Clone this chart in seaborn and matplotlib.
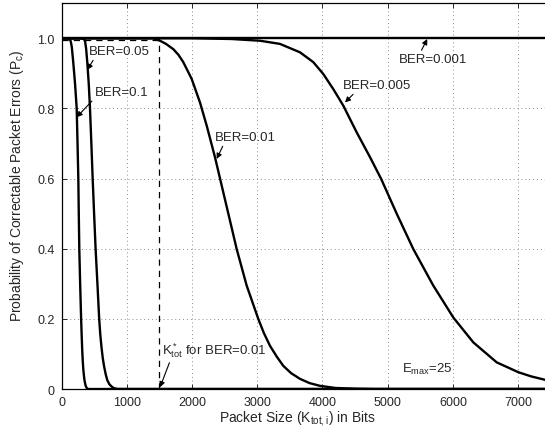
import matplotlib
matplotlib.use('Agg')
from matplotlib import pyplot as plt
import pandas as pd
import seaborn as sns

# values (packet size in bits, probability)
k_ber_01 = [0, 100, 128, 140, 155, 178, 205, 230, 243, 255, 262, 270, 283, 298, 307, 315, 323, 331,
            340, 350, 360, 370, 380, 393, 410, 7500]
p_ber_01 = [1, 1, 0.997, 0.99, 0.975, 0.93, 0.87, 0.8, 0.7, 0.6, 0.5, 0.4, 0.3, 0.2, 0.15, 0.11, 0.08, 0.057,
            0.04, 0.025, 0.015, 0.008, 0.004, 0.001, 0, 0]

k_ber_005 = [0, 300, 347, 360, 375, 393, 415, 434, 455, 475, 497, 520, 548, 575, 592, 610, 630, 650,
             675, 700, 730, 760, 795, 830, 870, 7500]
p_ber_005 = [1, 1, 0.997, 0.99, 0.97, 0.93, 0.87, 0.8, 0.7, 0.6, 0.5, 0.4, 0.3, 0.2, 0.155, 0.12, 0.088, 0.065,
             0.042, 0.025, 0.014, 0.008, 0.003, 0.001, 0, 0]

k_ber_001 = [0, 1400, 1508, 1600, 1712, 1790, 1865, 1994, 2121, 2224, 2351, 2454, 2594, 2684, 2837,
             3015, 3100, 3195, 3300, 3399, 3520, 3655, 3800, 3962, 4200, 4500, 4800, 7500]
p_ber_001 = [1, 1, 0.993, 0.984, 0.969, 0.953, 0.932, 0.884, 0.817, 0.751, 0.661, 0.58, 0.47, 0.399, 0.295,
             0.2, 0.16, 0.123, 0.092, 0.066, 0.045, 0.029, 0.017, 0.009, 0.003, 0.001, 0, 0]

k_ber_0005 = [0, 2000, 2600, 3044, 3348, 3655, 3859, 4013, 4166, 4319, 4524, 4729, 4900, 5138, 5393,
              5699, 6006, 6313, 6672, 7003, 7200, 7420]
p_ber_0005 = [1, 1, 0.998, 0.993, 0.984, 0.96, 0.932, 0.898, 0.855, 0.808, 0.732, 0.661, 0.599, 0.5, 0.399,
              0.295, 0.204, 0.133, 0.076, 0.048, 0.036, 0.026]

k_ber_0001 = [0, 7500]
p_ber_0001 = [1, 1]

ber_names = ['0.1', '0.05', '0.01', '0.005', '0.001']
k_lists = [k_ber_01, k_ber_005, k_ber_001, k_ber_0005, k_ber_0001]
p_lists = [p_ber_01, p_ber_005, p_ber_001, p_ber_0005, p_ber_0001]

k_opt = 1500  # K*_tot for BER=0.01

xticks = [0, 1000, 2000, 3000, 4000, 5000, 6000, 7000]
yticks = [0, 0.2, 0.4, 0.6, 0.8, 1.0]
ytick_labels = ['0', '0.2', '0.4', '0.6', '0.8', '1.0']

rows = []
for name, ks, ps in zip(ber_names, k_lists, p_lists):
    for k, p in zip(ks, ps):
        rows.append({'BER': name, 'K': k, 'P': p})
df = pd.DataFrame(rows)

sns.set_style('ticks')
plt.rcParams['font.family'] = ['Liberation Sans', 'DejaVu Sans']
plt.rcParams['mathtext.default'] = 'regular'

fig = plt.figure(figsize=(5.45, 4.35), dpi=100)
ax = fig.add_axes([0.1132, 0.1034, 489 / 545, 0.8869])

sns.lineplot(data=df, x='K', y='P', hue='BER', palette={b: 'k' for b in ber_names},
             estimator=None, sort=False, legend=False, lw=1.7, ax=ax)

# dashed marker for K*_tot
ax.plot([k_opt, k_opt], [0, 1.0], color='k', ls=(0, (5, 4)), lw=0.9)
ax.plot([0, k_opt], [0.996, 0.996], color='k', ls=(0, (5, 4)), lw=0.9)

ax.set_xlim(0, 7500)
ax.set_ylim(0, 1.1)
ax.set_xticks(xticks)
ax.set_yticks(yticks)
ax.set_yticklabels(ytick_labels)
ax.tick_params(direction='in', length=3.5, width=0.7, top=True, right=True, labelsize=9, pad=5)
for s in ax.spines.values():
    s.set_linewidth(0.9)
    s.set_color('k')

ax.grid(True, color='#8c8c8c', ls=(0, (1, 3)), lw=0.7)

ax.set_xlabel(r'Packet Size (K$_{tot,i}$) in Bits', fontsize=10)
ax.set_ylabel(r'Probability of Correctable Packet Errors (P$_c$)', fontsize=10)
ax.xaxis.set_label_coords(0.481, -0.05)
ax.yaxis.set_label_coords(-0.074, 0.53)

arrow = dict(arrowstyle='-|>', color='k', lw=0.8, mutation_scale=8, shrinkA=0, shrinkB=0)
notes = [
    ('BER=0.05', (393, 0.91), (419, 0.955), (0.1, 0)),
    ('BER=0.1', (230, 0.775), (511, 0.839), (0.0, 0)),
    ('BER=0.01', (2377, 0.656), (2353, 0.71), (0.15, 0)),
    ('BER=0.005', (4345, 0.817), (4310, 0.858), (0.2, 0)),
    ('BER=0.001', (5607, 0.998), (5178, 0.931), (0.3, 1)),
    (r'K$^*_{tot}$ for BER=0.01', (1508, 0.005), (1543, 0.1), (0.08, 0)),
]
for txt, tip, pos, rel in notes:
    ax.annotate(txt, xy=tip, xytext=pos, fontsize=9.5, ha='left', va='baseline',
                arrowprops=dict(arrow, relpos=rel))

ax.text(5215, 0.05, r'E$_{max}$=25', fontsize=9.5, ha='left', va='baseline')

fig.savefig('out.png', dpi=100)
